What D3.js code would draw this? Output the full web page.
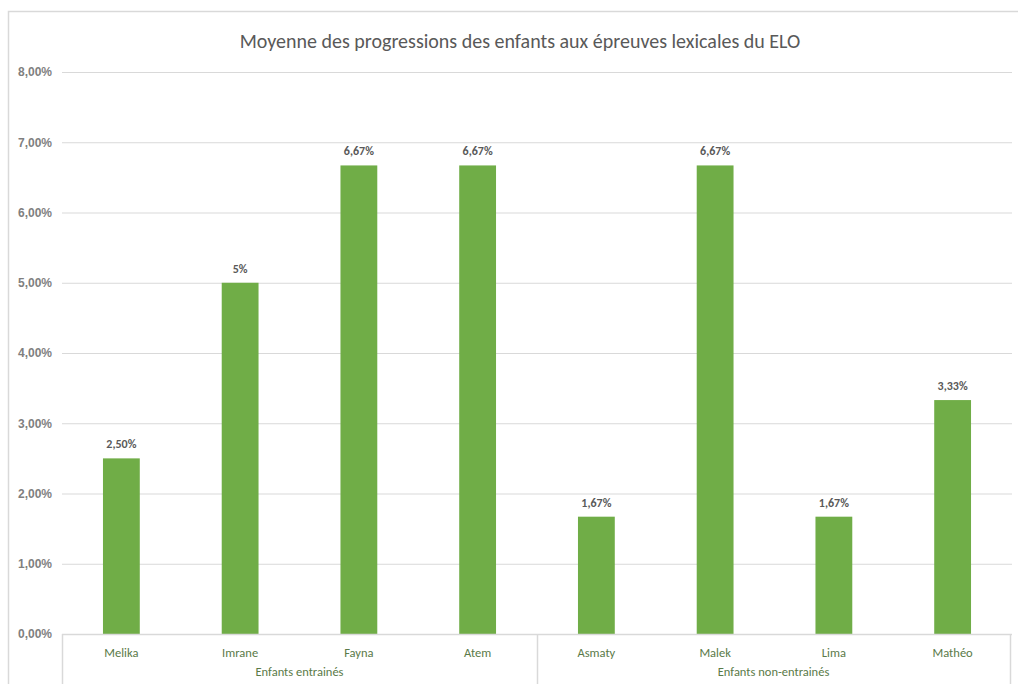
<!DOCTYPE html>
<html><head><meta charset="utf-8">
<script src="https://cdn.jsdelivr.net/npm/d3@7"></script>
<style>body{margin:0;background:#fff;}svg{display:block;font-family:Carlito,Calibri,Lato,"Liberation Sans","Open Sans",sans-serif;}</style>
</head><body>
<svg id="c" width="1018" height="684"></svg>
<script>
const title = "Moyenne des progressions des enfants aux épreuves lexicales du ELO";
const categories = ["Melika","Imrane","Fayna","Atem","Asmaty","Malek","Lima","Mathéo"];
const groups = ["Enfants entrainés","Enfants entrainés","Enfants entrainés","Enfants entrainés","Enfants non-entrainés","Enfants non-entrainés","Enfants non-entrainés","Enfants non-entrainés"];
const values = [0.025,0.05,0.0667,0.0667,0.0167,0.0667,0.0167,0.0333];
const valueLabels = ["2,50%","5%","6,67%","6,67%","1,67%","6,67%","1,67%","3,33%"];
const yTicks = [0,0.01,0.02,0.03,0.04,0.05,0.06,0.07,0.08];

(function(){
const svg = d3.select("#c");
const mLeft = 62, mRight = 1012, mTop = 72, mBottom = 634;
svg.append("rect").attr("x",8.5).attr("y",11.5).attr("width",1030).attr("height",700)
  .attr("fill","none").attr("stroke","#d9d9d9").attr("stroke-width",1.5);

const x = d3.scaleBand().domain(categories).range([mLeft,mRight]).paddingInner(0.69).paddingOuter(0.345);
const y = d3.scaleLinear().domain([0,0.08]).range([mBottom,mTop]);

svg.append("text").attr("x",520).attr("y",48).attr("text-anchor","middle")
  .attr("font-size",20).attr("fill","#595959").text(title);

const fmt = v => d3.format(".2f")(v*100).replace(".",",")+"%";
const yAxis = svg.append("g").attr("transform",`translate(${mLeft},0)`)
  .call(d3.axisLeft(y).tickValues(yTicks).tickSize(-(mRight-mLeft)).tickFormat(fmt));
yAxis.select(".domain").remove();
yAxis.selectAll(".tick line").attr("stroke","#d9d9d9").attr("stroke-width",1.2);
yAxis.selectAll(".tick text").attr("x",-10).attr("fill","#7f7f7f").attr("font-size",12).attr("font-weight","bold");

svg.append("g").selectAll("rect").data(values).join("rect")
  .attr("x",(d,i)=>x(categories[i])).attr("width",x.bandwidth())
  .attr("y",d=>y(d)).attr("height",d=>mBottom-y(d)).attr("fill","#70ad47");

svg.append("g").selectAll("text").data(values).join("text")
  .attr("x",(d,i)=>x(categories[i])+x.bandwidth()/2).attr("y",d=>y(d)-10)
  .attr("text-anchor","middle").attr("font-size",12).attr("font-weight","bold").attr("fill","#595959")
  .text((d,i)=>valueLabels[i]);

const gAx = svg.append("g");
gAx.append("line").attr("x1",mLeft).attr("x2",mRight).attr("y1",mBottom+0.5).attr("y2",mBottom+0.5).attr("stroke","#d9d9d9").attr("stroke-width",1.5);
const groupNames = Array.from(new Set(groups));
const boundaries = [mLeft];
groupNames.forEach(g=>{
  const idx = groups.map((v,i)=>v===g?i:-1).filter(i=>i>=0);
  boundaries.push(mLeft + (idx[idx.length-1]+1)*x.step());
});
boundaries[boundaries.length-1] = mRight - 2;
boundaries.forEach(b=>{
  gAx.append("line").attr("x1",b+0.5).attr("x2",b+0.5).attr("y1",mBottom).attr("y2",700).attr("stroke","#d9d9d9").attr("stroke-width",1.5);
});
gAx.selectAll("text.cat").data(categories).join("text").attr("class","cat")
  .attr("x",d=>x(d)+x.bandwidth()/2).attr("y",mBottom+23).attr("text-anchor","middle")
  .attr("font-size",12.5).attr("fill","#5a7a48").text(d=>d);
groupNames.forEach((g,k)=>{
  gAx.append("text").attr("x",(boundaries[k]+boundaries[k+1])/2).attr("y",mBottom+42)
    .attr("text-anchor","middle").attr("font-size",12.5).attr("fill","#5a7a48").text(g);
});
})();
</script>
</body></html>
